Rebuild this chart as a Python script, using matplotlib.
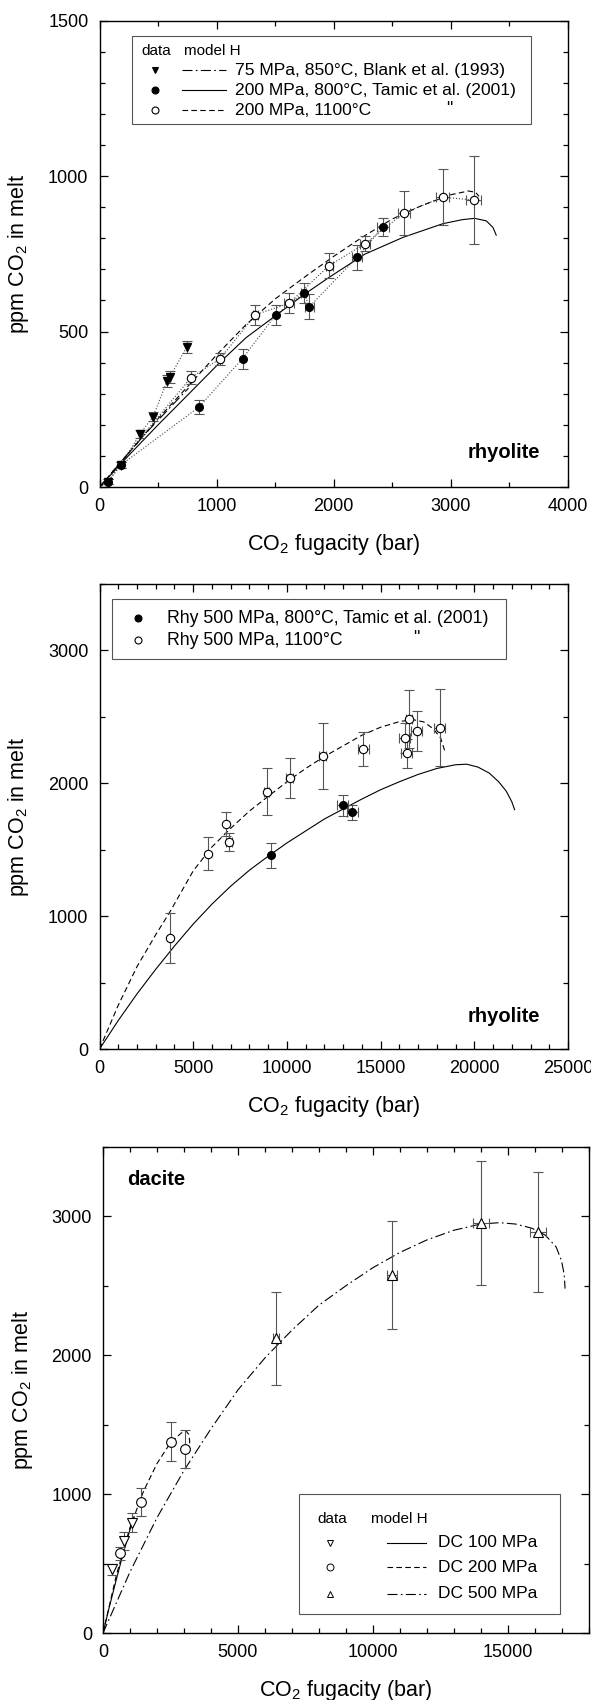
import numpy as np
import matplotlib
matplotlib.use("Agg")
import matplotlib.pyplot as plt
from matplotlib.patches import Rectangle
from matplotlib.ticker import MultipleLocator

plt.rcParams['font.family'] = ['Liberation Sans', 'DejaVu Sans']
plt.rcParams['mathtext.fontset'] = 'custom'
plt.rcParams['mathtext.rm'] = 'Liberation Sans'

# --- panel 1: rhyolite 75/200 MPa ---
blank_f = [70, 183, 347, 456, 578, 600, 745]
blank_c = [17, 71, 171, 226, 341, 354, 450]
blank_e = [8, 10, 12, 15, 18, 18, 20]

t800_f = [70, 183, 848, 1221, 1503, 1744, 1792, 2200, 2419]
t800_c = [17, 71, 257, 413, 553, 624, 580, 739, 836]
t800_ey = [8, 10, 22, 32, 32, 32, 40, 40, 28]
t800_ex = [0, 0, 0, 0, 0, 20, 35, 45, 50]

t1100_f = [781, 1028, 1330, 1619, 1960, 2268, 2599, 2930, 3196]
t1100_c = [352, 412, 554, 591, 712, 783, 881, 932, 923]
t1100_ey = [20, 18, 32, 32, 40, 25, 70, 90, 140]
t1100_ex = [0, 15, 20, 40, 30, 45, 50, 55, 65]

m75_f = [0, 200, 400, 600, 760]
m75_c = [0, 88, 175, 255, 318]
m800_f = [0, 250, 500, 761, 1031, 1250, 1499, 1750, 1959, 2266, 2592, 2933, 3100, 3203, 3302, 3359, 3387]
m800_c = [0, 102, 200, 299, 402, 480, 550, 620, 674, 749, 803, 847, 860, 864, 856, 835, 810]
m1100_f = [0, 250, 500, 750, 1000, 1250, 1500, 1750, 2000, 2250, 2500, 2750, 3000, 3150, 3210, 3240]
m1100_c = [0, 110, 220, 322, 425, 522, 605, 675, 742, 805, 862, 905, 940, 952, 948, 935]

# --- panel 2: rhyolite 500 MPa ---
r800_f = [9135, 12977, 13480]
r800_c = [1457, 1833, 1779]
r800_ey = [95, 78, 58]
r800_ex = [0, 300, 300]

r1100_f = [3742, 5795, 6740, 6921, 8913, 10140, 11911, 14084, 16277, 16500, 16397, 16921, 18148]
r1100_c = [832, 1470, 1690, 1556, 1934, 2036, 2205, 2256, 2340, 2482, 2224, 2391, 2417]
r1100_ey = [188, 127, 90, 70, 176, 150, 250, 125, 110, 215, 110, 150, 290]
r1100_ex = [0, 0, 0, 150, 150, 200, 200, 300, 300, 150, 300, 300, 300]

r_m800_f = [0, 1000, 2000, 3000, 4000, 5000, 6000, 7000, 8000, 9000, 10000, 11000, 12000, 13000,
            14000, 15000, 16000, 17000, 18000, 19000, 19600, 20200, 20800, 21300, 21700, 22000, 22150]
r_m800_c = [0, 215, 415, 600, 775, 940, 1090, 1225, 1345, 1450, 1550, 1640, 1730, 1805,
            1880, 1950, 2010, 2065, 2110, 2138, 2142, 2120, 2075, 2010, 1940, 1860, 1800]
r_m1100_f = [0, 1000, 2000, 3000, 3742, 5000, 6000, 7000, 8000, 9000, 10000, 11000, 12000, 13000,
             14000, 15000, 16000, 16700, 17300, 17800, 18200, 18450]
r_m1100_c = [0, 330, 620, 860, 1028, 1340, 1520, 1660, 1790, 1900, 2010, 2110, 2200, 2280,
             2360, 2420, 2462, 2478, 2460, 2410, 2340, 2230]

# --- panel 3: dacite ---
dc100_f = [327, 777, 1081]
dc100_c = [458, 665, 795]
dc100_e = [40, 65, 70]
dc200_f = [631, 1421, 2515, 3037]
dc200_c = [574, 945, 1377, 1325]
dc200_e = [45, 100, 140, 135]
dc500_f = [6408, 10712, 14028, 16117]
dc500_c = [2123, 2577, 2954, 2889]
dc500_ey = [335, 390, 445, 430]
dc500_ex = [100, 200, 300, 300]

d_m100_f = [0, 250, 500, 750, 1000, 1150]
d_m100_c = [0, 200, 390, 575, 745, 830]
d_m200_f = [0, 500, 1000, 1500, 2000, 2500, 2900, 3072, 3180, 3215, 3195]
d_m200_c = [0, 420, 760, 1020, 1220, 1370, 1440, 1457, 1430, 1380, 1320]
d_m500_f = [0, 1000, 2000, 3000, 4000, 5000, 6000, 7000, 8000, 9000, 10000, 11000, 12000, 13000,
            14000, 14700, 15300, 15900, 16400, 16800, 17000, 17100, 17130]
d_m500_c = [0, 440, 830, 1170, 1470, 1750, 1980, 2180, 2360, 2500, 2630, 2740, 2830, 2900,
            2945, 2955, 2945, 2915, 2865, 2780, 2680, 2580, 2480]

DASH = (0, (5, 3))
DASHDOT = (0, (9, 3, 1.5, 3))
EB = dict(ecolor='#555555', elinewidth=0.8, capsize=3.5, capthick=0.8, linestyle='none')


def style_axes(ax, xmax, ymax, xmaj, xmin, ymaj, ymin):
    ax.set_xlim(0, xmax)
    ax.set_ylim(0, ymax)
    ax.xaxis.set_major_locator(MultipleLocator(xmaj))
    ax.xaxis.set_minor_locator(MultipleLocator(xmin))
    ax.yaxis.set_major_locator(MultipleLocator(ymaj))
    ax.yaxis.set_minor_locator(MultipleLocator(ymin))
    ax.tick_params(which='both', direction='in', top=True, right=True, labelsize=13, width=0.9)
    ax.tick_params(which='major', length=6, pad=8)
    ax.tick_params(which='minor', length=3.5)
    for s in ax.spines.values():
        s.set_linewidth(1.0)
    ax.set_xlabel("CO$_2$ fugacity (bar)", fontsize=15.5, labelpad=12)
    ax.set_ylabel("ppm CO$_2$ in melt", fontsize=15.5, labelpad=12)


fig = plt.figure(figsize=(5.91, 17.0), dpi=100)
ax1 = fig.add_axes([0.1684, 0.7135, 0.7927, 0.2744])
ax2 = fig.add_axes([0.1684, 0.3829, 0.7927, 0.2738])
ax3 = fig.add_axes([0.1743, 0.0394, 0.8215, 0.2859])

# panel 1
ax = ax1
style_axes(ax, 4000, 1500, 1000, 500, 500, 100)
for f, c in [(blank_f, blank_c), (t800_f, t800_c), (t1100_f, t1100_c)]:
    ax.plot([0] + f, [0] + c, ':', color='#444444', lw=0.8)
ax.plot(m75_f, m75_c, color='k', lw=0.8, linestyle=DASHDOT)
ax.plot(m800_f, m800_c, color='k', lw=0.8)
ax.plot(m1100_f, m1100_c, color='k', lw=0.8, linestyle=DASH)
ax.errorbar(blank_f, blank_c, yerr=blank_e, **EB)
ax.errorbar(t800_f, t800_c, yerr=t800_ey, xerr=t800_ex, **EB)
ax.errorbar(t1100_f, t1100_c, yerr=t1100_ey, xerr=t1100_ex, **EB)
ax.plot(blank_f, blank_c, 'v', color='k', ms=6, ls='none')
ax.plot(t800_f, t800_c, 'o', color='k', ms=5.5, ls='none')
ax.plot(t1100_f, t1100_c, 'o', mfc='white', mec='k', mew=0.8, ms=6, ls='none')
ax.text(0.94, 0.073, "rhyolite", transform=ax.transAxes, ha='right', va='center',
        fontsize=14.5, fontweight='bold')
# legend
T = ax.transAxes
ax.add_patch(Rectangle((0.07, 0.778), 0.85, 0.188, transform=T, fill=False, lw=0.8, ec='#555555'))
ax.text(0.09, 0.935, "data", transform=T, fontsize=11, va='center')
ax.text(0.18, 0.935, "model H", transform=T, fontsize=11, va='center')
rows = [(0.893, 'v', 'k', DASHDOT, "75 MPa, 850°C, Blank et al. (1993)"),
        (0.851, 'o', 'k', '-', "200 MPa, 800°C, Tamic et al. (2001)"),
        (0.808, 'o', 'white', DASH, "200 MPa, 1100°C")]
for y, mk, fc, ls, lab in rows:
    ax.plot([0.118], [y], mk, mfc=fc, mec='k', mew=0.8, ms=5, transform=T)
    ax.plot([0.175, 0.27], [y, y], color='k', lw=0.8, linestyle=ls, transform=T)
    ax.text(0.29, y, lab, transform=T, fontsize=12.6, va='center')
ax.text(0.74, 0.812, '"', transform=T, fontsize=12.6, va='center')

# panel 2
ax = ax2
style_axes(ax, 25000, 3500, 5000, 1000, 1000, 500)
ax.plot(r_m800_f, r_m800_c, color='k', lw=0.8)
ax.plot(r_m1100_f, r_m1100_c, color='k', lw=0.8, linestyle=DASH)
ax.errorbar(r800_f, r800_c, yerr=r800_ey, xerr=r800_ex, **EB)
ax.errorbar(r1100_f, r1100_c, yerr=r1100_ey, xerr=r1100_ex, **EB)
ax.plot(r800_f, r800_c, 'o', color='k', ms=5.5, ls='none')
ax.plot(r1100_f, r1100_c, 'o', mfc='white', mec='k', mew=0.8, ms=6, ls='none')
ax.text(0.94, 0.071, "rhyolite", transform=ax.transAxes, ha='right', va='center',
        fontsize=14.5, fontweight='bold')
T = ax.transAxes
ax.add_patch(Rectangle((0.027, 0.839), 0.84, 0.129, transform=T, fill=False, lw=0.8, ec='#555555'))
for y, fc, lab in [(0.926, 'k', "Rhy 500 MPa, 800°C, Tamic et al. (2001)"),
                   (0.878, 'white', "Rhy 500 MPa, 1100°C")]:
    ax.plot([0.082], [y], 'o', mfc=fc, mec='k', mew=0.8, ms=5, transform=T)
    ax.text(0.145, y, lab, transform=T, fontsize=12.7, va='center')
ax.text(0.67, 0.882, '"', transform=T, fontsize=12.7, va='center')

# panel 3
ax = ax3
style_axes(ax, 18000, 3500, 5000, 1000, 1000, 500)
ax.plot(d_m100_f, d_m100_c, color='k', lw=0.8)
ax.plot(d_m200_f, d_m200_c, color='k', lw=0.8, linestyle=DASH)
ax.plot(d_m500_f, d_m500_c, color='k', lw=0.8, linestyle=DASHDOT)
ax.errorbar(dc100_f, dc100_c, yerr=dc100_e, **EB)
ax.errorbar(dc200_f, dc200_c, yerr=dc200_e, **EB)
ax.errorbar(dc500_f, dc500_c, yerr=dc500_ey, xerr=dc500_ex, **EB)
ax.plot(dc100_f, dc100_c, 'v', mfc='white', mec='k', mew=0.8, ms=6.5, ls='none')
ax.plot(dc200_f, dc200_c, 'o', mfc='white', mec='k', mew=0.8, ms=7, ls='none')
ax.plot(dc500_f, dc500_c, '^', mfc='white', mec='k', mew=0.8, ms=6.5, ls='none')
ax.text(0.049, 0.933, "dacite", transform=ax.transAxes, ha='left', va='center',
        fontsize=14.5, fontweight='bold')
T = ax.transAxes
ax.add_patch(Rectangle((0.403, 0.04), 0.539, 0.246, transform=T, fill=False, lw=0.8, ec='#555555'))
ax.text(0.473, 0.235, "data", transform=T, fontsize=11, va='center', ha='center')
ax.text(0.553, 0.235, "model H", transform=T, fontsize=11, va='center')
for y, mk, ls, lab in [(0.186, 'v', '-', "DC 100 MPa"),
                       (0.135, 'o', DASH, "DC 200 MPa"),
                       (0.081, '^', DASHDOT, "DC 500 MPa")]:
    ax.plot([0.468], [y], mk, mfc='white', mec='k', mew=0.7, ms=5, transform=T)
    ax.plot([0.585, 0.665], [y, y], color='k', lw=0.8, linestyle=ls, transform=T)
    ax.text(0.69, y, lab, transform=T, fontsize=12.5, va='center')

fig.savefig("out.png", dpi=100)
